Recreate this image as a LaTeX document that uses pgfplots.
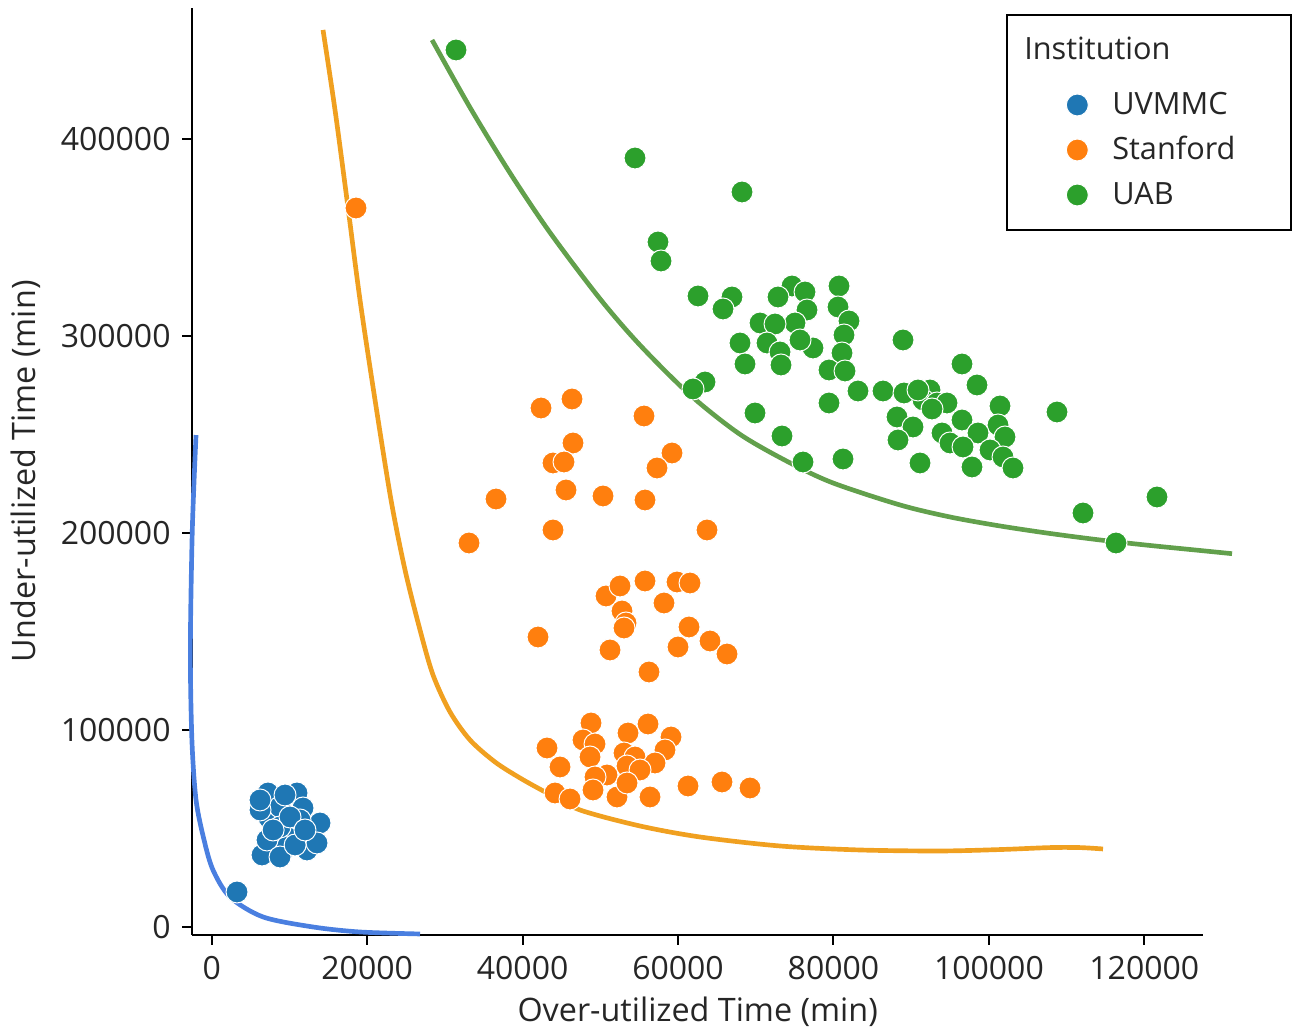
\documentclass[border=0pt]{standalone}
\usepackage{fontspec}
\setmainfont{Open Sans}
\usepackage{pgfplots}
\pgfplotsset{compat=1.18}
\definecolor{cblue}{HTML}{1F77B4}
\definecolor{corange}{HTML}{FF7F0E}
\definecolor{cgreen}{HTML}{2CA02C}
\definecolor{lblue}{HTML}{4A7FE0}
\definecolor{lorange}{HTML}{F0A020}
\definecolor{lgreen}{HTML}{62A04C}
\definecolor{txt}{HTML}{262626}
\begin{document}
\begin{tikzpicture}
\begin{axis}[
  scale only axis, width=303.2pt, height=278.1pt,
  xmin=-2496, xmax=127550, ymin=-4060, ymax=466480,
  axis x line=bottom, axis y line=left,
  axis line style={-, line width=0.6pt, black},
  tick align=outside, major tick length=3pt,
  tick style={line width=0.6pt, black},
  xtick={0,20000,...,120000}, ytick={0,100000,...,400000},
  scaled ticks=false,
  /pgf/number format/.cd, fixed, 1000 sep={}, assume math mode=true,
  /pgfplots/.cd,
  tick label style={font=\fontsize{9.6}{11}\selectfont, text=txt},
  xlabel={Over-utilized Time (min)},
  ylabel={Under-utilized Time (min)},
  label style={font=\fontsize{9.7}{11}\selectfont, text=txt},
  xlabel style={at={(axis description cs:0.5,-0.0831)}, anchor=center},
  ylabel style={at={(axis description cs:-0.1652,0.5)}, anchor=center, rotate=0},
  clip=false,
  legend cell align=left,
  legend style={at={(1,1)}, anchor=north east, xshift=26.7pt, yshift=-1.8pt,
    draw=black, line width=0.6pt, font=\fontsize{9.2}{11}\selectfont, text=txt,
    inner xsep=12.6pt, inner ysep=6.5pt, row sep=5.5pt, column sep=7.2pt,
    nodes={inner sep=0pt, text height=7pt, text depth=1pt, text width=41pt, align=left}},
]
\coordinate (bl) at (rel axis cs:0,0);
\coordinate (tr) at (rel axis cs:1,1);
% fitted curves
\addplot[lblue, line width=1.4pt, smooth, forget plot] coordinates {
(-2020,249700) (-2500,201500) (-2750,140600) (-2550,94900) (-2020,64500)
(-990,44200) (167,28900) (2350,15200) (6600,5100) (13040,0) (19080,-2540) (26800,-3550)};
\addplot[lorange, line width=1.4pt, smooth, forget plot] coordinates {
(14321,455317) (15865,414709) (17409,369025) (19082,318265) (21012,267505)
(23071,216745) (24872,181213) (26802,150757) (28475,127915) (30663,109134)
(33236,94921) (36452,83754) (39669,75632) (43143,68018) (47389,59389)
(55109,51268) (62829,45684) (73123,41116) (83416,39085) (93710,38578)
(101430,39300) (107864,40300) (111724,40300) (114683,39592)};
\addplot[lgreen, line width=1.4pt, smooth, forget plot] coordinates {
(28350,450241) (33240,415928) (38388,382680) (43535,352427) (49968,318824)
(55115,295322) (61549,270094) (67982,250044) (74416,235577) (79949,225374)
(88570,214207) (95003,208116) (101437,203548) (107870,199741) (114304,196441)
(120737,193650) (127171,191111) (131288,189487)};
\addlegendimage{empty legend}
\addlegendentry[text depth=4pt]{\hspace*{-26.4pt}Institution}
% UVMMC
\addplot[only marks, mark=*, mark size=3.3pt, mark options={fill=cblue, draw=white, line width=0.3pt}] coordinates {
(6472,36550) (7373,55330) (10975,68020) (7244,68020) (11748,60400) (13292,50760)
(8788,60910) (10461,47710) (9689,40610) (12648,44160) (13935,52790) (7116,44160)
(8788,50760) (6215,59390) (6215,64470) (12262,39090) (8788,35530) (11362,54310)
(13549,42640) (10075,55840) (7900,49240) (10730,41620) (12000,49240) (9430,67000)
(3255,17770)};
\addlegendentry{UVMMC}
% Stanford
\addplot[only marks, mark=*, mark size=3.3pt, mark options={fill=corange, draw=white, line width=0.3pt}] coordinates {
(18567,364960) (42371,263440) (46360,268010) (55624,259380) (46488,245680)
(43915,235530) (45330,236030) (59227,240600) (57297,232990) (36581,217250)
(45588,221820) (50349,218780) (55752,216740) (43915,201520) (63730,201520)
(33107,194920) (50735,168020) (52536,173090) (55752,175630) (59870,175120)
(61543,174610) (58197,164460) (52793,160400) (53308,154310) (53051,151770)
(41985,147200) (61415,152280) (64117,145170) (66304,138570) (60000,142130)
(51250,140610) (56267,129440) (48805,103550) (56139,103040) (53565,98470)
(47775,94920) (49319,92890) (59098,96440) (43143,90860) (58326,89850)
(53051,88320) (48676,86290) (54466,86290) (44816,81220) (57040,83250)
(53437,81720) (50863,77160) (55109,79690) (49319,76140) (49062,69540)
(44172,68020) (46103,64970) (52150,65990) (53437,73090) (56396,65990)
(61286,71570) (65660,73600) (69264,70560)};
\addlegendentry{Stanford}
% UAB
\addplot[only marks, mark=*, mark size=3.3pt, mark options={fill=cgreen, draw=white, line width=0.3pt}] coordinates {
(31434,445170) (54466,390340) (68234,373090) (57425,347710) (57812,338060)
(62572,320300) (66947,319790) (65789,313700) (74668,325370) (72866,319790)
(76340,322330) (76597,313190) (75053,306590) (70552,306590) (72480,306080)
(80715,325370) (80587,314710) (82001,307610) (81359,300500) (67977,296440)
(71450,296440) (73123,291870) (77369,293900) (75697,297960) (68620,285780)
(73252,285270) (81101,291360) (79428,282730) (81488,282230) (88950,297960)
(63473,276640) (61929,273090) (83159,272070) (86377,272070) (89078,271060)
(92424,272580) (91524,267510) (93324,265980) (79428,265980) (69906,260910)
(88178,258880) (90237,253800) (73381,249230) (88306,247200) (76083,236030)
(81230,237560) (91138,235530) (96541,285780) (98470,275120) (90880,272580)
(94611,265980) (92681,262940) (101431,264460) (96541,257350) (101173,254820)
(93968,250760) (98600,250760) (102074,248720) (94997,245680) (96670,243650)
(100144,242130) (97828,233500) (101817,238570) (103103,232990) (108765,261410)
(112110,210150) (121632,218270) (116356,194920)};
\addlegendentry{UAB}
\end{axis}
\pgfresetboundingbox
\path ([shift={(-57.7pt,-28.5pt)}]bl) rectangle ([shift={(27.9pt,2.4pt)}]tr);
\end{tikzpicture}
\end{document}
